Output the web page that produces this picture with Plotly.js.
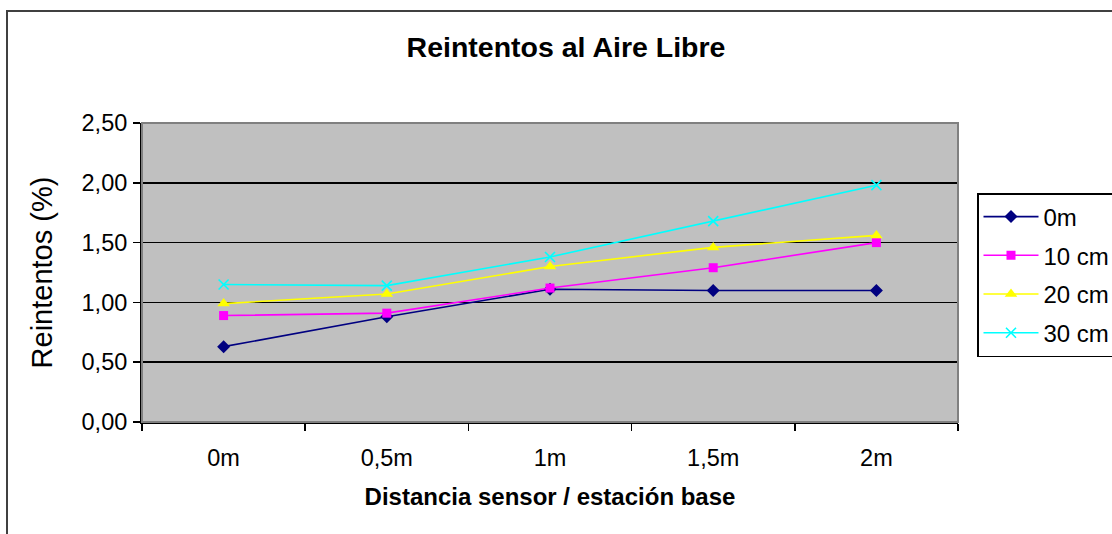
<!DOCTYPE html>
<html>
<head>
<meta charset="utf-8">
<script src="https://cdn.plot.ly/plotly-3.0.1.min.js"></script>
<style>
html,body{margin:0;padding:0;background:#fff;}
#chart{width:1112px;height:534px;}
</style>
</head>
<body>
<div id="chart"></div>
<script>
// ---- data ----
const categories = ['0m', '0,5m', '1m', '1,5m', '2m'];
const seriesNames = ['0m', '10 cm', '20 cm', '30 cm'];
const s0m  = [0.63, 0.88, 1.11, 1.10, 1.10];
const s10  = [0.89, 0.91, 1.12, 1.29, 1.50];
const s20  = [0.99, 1.07, 1.30, 1.46, 1.56];
const s30  = [1.15, 1.14, 1.38, 1.68, 1.98];
const yTickVals = [0, 0.5, 1, 1.5, 2, 2.5];

const FONT = 'Arial, "Liberation Sans", sans-serif';

function mk(name, y, color, symbol, size, extra) {
  return Object.assign({
    type: 'scatter', mode: 'lines+markers',
    x: categories, y: y, name: name, legendgroup: name,
    line: {color: color, width: 1.6},
    marker: {color: color, symbol: symbol, size: size, line: {width: 0, color: color}}
  }, extra || {});
}

const traces = [
  mk(seriesNames[0], s0m, '#000080', 'diamond', 10),
  mk(seriesNames[1], s10, '#FF00FF', 'square', 9),
  mk(seriesNames[2], s20, '#FFFF00', 'triangle-up', 11),
  mk(seriesNames[3], s30, '#00FFFF', 'x-thin', 10, {marker: {color: '#00FFFF', symbol: 'x-thin', size: 10, line: {width: 1.6, color: '#00FFFF'}}})
];

const L = 142, R = 958, T = 123, B = 422, W = 1112, H = 534;
const px2x = p => (p - L) / (R - L);
const py2y = p => (B - p) / (B - T);

const layout = {
  width: W, height: H,
  margin: {l: L, r: W - R, t: T, b: H - B, pad: 0, autoexpand: false},
  paper_bgcolor: '#ffffff',
  plot_bgcolor: '#C0C0C0',
  separators: ',.',
  font: {family: FONT, color: '#000000', size: 23},
  title: {
    text: 'Reintentos al Aire Libre',
    font: {family: FONT, size: 28.5, color: '#000', weight: 'bold'},
    x: 0.509, xref: 'container', xanchor: 'center',
    y: 1 - 47.5 / H, yref: 'container', yanchor: 'middle'
  },
  xaxis: {
    type: 'category',
    range: [-0.5, 4.5],
    tickson: 'boundaries',
    ticks: 'outside', ticklen: 7, tickwidth: 1.5, tickcolor: '#000',
    showline: true, linecolor: '#000', linewidth: 2,
    showgrid: false, zeroline: false,
    tickfont: {family: FONT, size: 23.5, color: '#000'},
    ticklabelstandoff: 14,
    title: {text: 'Distancia sensor / estación base', font: {family: FONT, size: 24, color: '#000', weight: 'bold'}, standoff: 18},
    fixedrange: true
  },
  yaxis: {
    range: [0, 2.5],
    tickvals: yTickVals,
    tickformat: '.2f',
    ticks: 'outside', ticklen: 7, tickwidth: 1.5, tickcolor: '#000',
    showline: true, linecolor: '#000', linewidth: 2,
    showgrid: true, gridcolor: '#000000', gridwidth: 1.6,
    zeroline: false,
    tickfont: {family: FONT, size: 23.5, color: '#000'},
    ticklabelstandoff: 1,
    title: {text: 'Reintentos (%)', font: {family: FONT, size: 29, color: '#000'}, standoff: 20},
    fixedrange: true
  },
  showlegend: true,
  legend: {
    x: px2x(977), y: py2y(193), xanchor: 'left', yanchor: 'top',
    xref: 'paper', yref: 'paper',
    bgcolor: '#ffffff', bordercolor: '#000000', borderwidth: 1.5,
    font: {family: FONT, size: 24, color: '#000'},
    tracegroupgap: 4.5,
    itemwidth: 55
  },
  shapes: [
    // plot area border (top/right grey)
    {type: 'rect', xref: 'paper', yref: 'paper', x0: 0, x1: 1, y0: 0, y1: 1,
     line: {color: '#808080', width: 2}, fillcolor: 'rgba(0,0,0,0)', layer: 'above'},
    // outer chart area border
    {type: 'rect', xref: 'paper', yref: 'paper',
     x0: px2x(7), x1: px2x(1130), y0: py2y(560), y1: py2y(11),
     line: {color: '#404040', width: 2}, fillcolor: 'rgba(0,0,0,0)', layer: 'below'}
  ]
};

Plotly.newPlot('chart', traces, layout, {staticPlot: true, displayModeBar: false});
</script>
</body>
</html>
